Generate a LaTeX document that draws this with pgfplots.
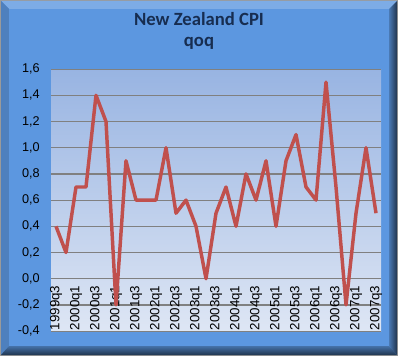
\documentclass[border=0pt]{standalone}
\usepackage{pgfplots}
\pgfplotsset{compat=1.18}
\usepackage{fontspec}
\setmainfont{Liberation Sans}
\newfontfamily\titlefont{Carlito}
\definecolor{bgblue}{RGB}{92,151,224}
\definecolor{titlecol}{RGB}{23,45,80}
\definecolor{linecol}{RGB}{192,80,77}
\definecolor{gridcol}{RGB}{128,128,128}
\definecolor{ptop}{RGB}{152,180,226}
\definecolor{pbot}{RGB}{222,230,244}
\pgfplotstableread{
idx val
0 0.4
1 0.2
2 0.7
3 0.7
4 1.4
5 1.2
6 -0.2
7 0.9
8 0.6
9 0.6
10 0.6
11 1.0
12 0.5
13 0.6
14 0.4
15 0.0
16 0.5
17 0.7
18 0.4
19 0.8
20 0.6
21 0.9
22 0.4
23 0.9
24 1.1
25 0.7
26 0.6
27 1.5
28 0.7
29 -0.2
30 0.5
31 1.0
32 0.5
}\cpidata
\begin{document}
\begin{tikzpicture}[x=0.75pt,y=0.75pt]
% background frame (pixel coords, y up)
\fill[gridcol!80] (0,0) rectangle (398,356);
\fill[bgblue] (1,1) rectangle (397,355);
% top bevel
\fill[bgblue!80!white] (1,355) -- (397,355) -- (389,347) -- (9,347) -- cycle;
% left bevel
\fill[bgblue!85!black] (1,355) -- (9,347) -- (9,10) -- (1,1) -- cycle;
% right bevel
\shade[left color=bgblue!80!black, right color=bgblue!35!black] (389,347) -- (397,355) -- (397,1) -- (389,10) -- cycle;
% bottom bevel
\shade[top color=bgblue!75!black, bottom color=bgblue!35!black] (9,10) -- (389,10) -- (397,1) -- (1,1) -- cycle;
\fill[bgblue] (9,10) rectangle (389,347);
% title
\node[font=\titlefont\bfseries\fontsize{14}{16}\selectfont, text=titlecol, align=center] at (199,325) {New Zealand CPI\\qoq};
\begin{axis}[
  at={(51,19)}, anchor=south west,
  scale only axis,
  width=247.5pt, height=196.5pt,
  xmin=-0.5, xmax=32.5, ymin=-0.4, ymax=1.6,
  axis background/.style={shade, top color=ptop, bottom color=pbot},
  axis line style={draw=none},
  ytick={-0.4,-0.2,0,0.2,0.4,0.6,0.8,1.0,1.2,1.4,1.6},
  ymajorgrids,
  major grid style={gridcol, line width=0.9pt},
  major tick length=0pt,
  /pgf/number format/assume math mode=true,
  y tick label style={/pgf/number format/fixed, /pgf/number format/fixed zerofill, /pgf/number format/precision=1, /pgf/number format/use comma, font=\fontsize{9.5}{11}\selectfont, xshift=-5pt},
  xtick={0,2,...,32},
  xticklabels={1999q3,2000q1,2000q3,2001q1,2001q3,2002q1,2002q3,2003q1,2003q3,2004q1,2004q3,2005q1,2005q3,2006q1,2006q3,2007q1,2007q3},
  x tick label style={font=\fontsize{10}{11}\selectfont, rotate=90, anchor=west, inner sep=0.5pt},
  clip=false,
]
\addplot[linecol, line width=2.6pt, line join=round, mark=none] table[x=idx, y=val] {\cpidata};
\end{axis}
\end{tikzpicture}
\end{document}
